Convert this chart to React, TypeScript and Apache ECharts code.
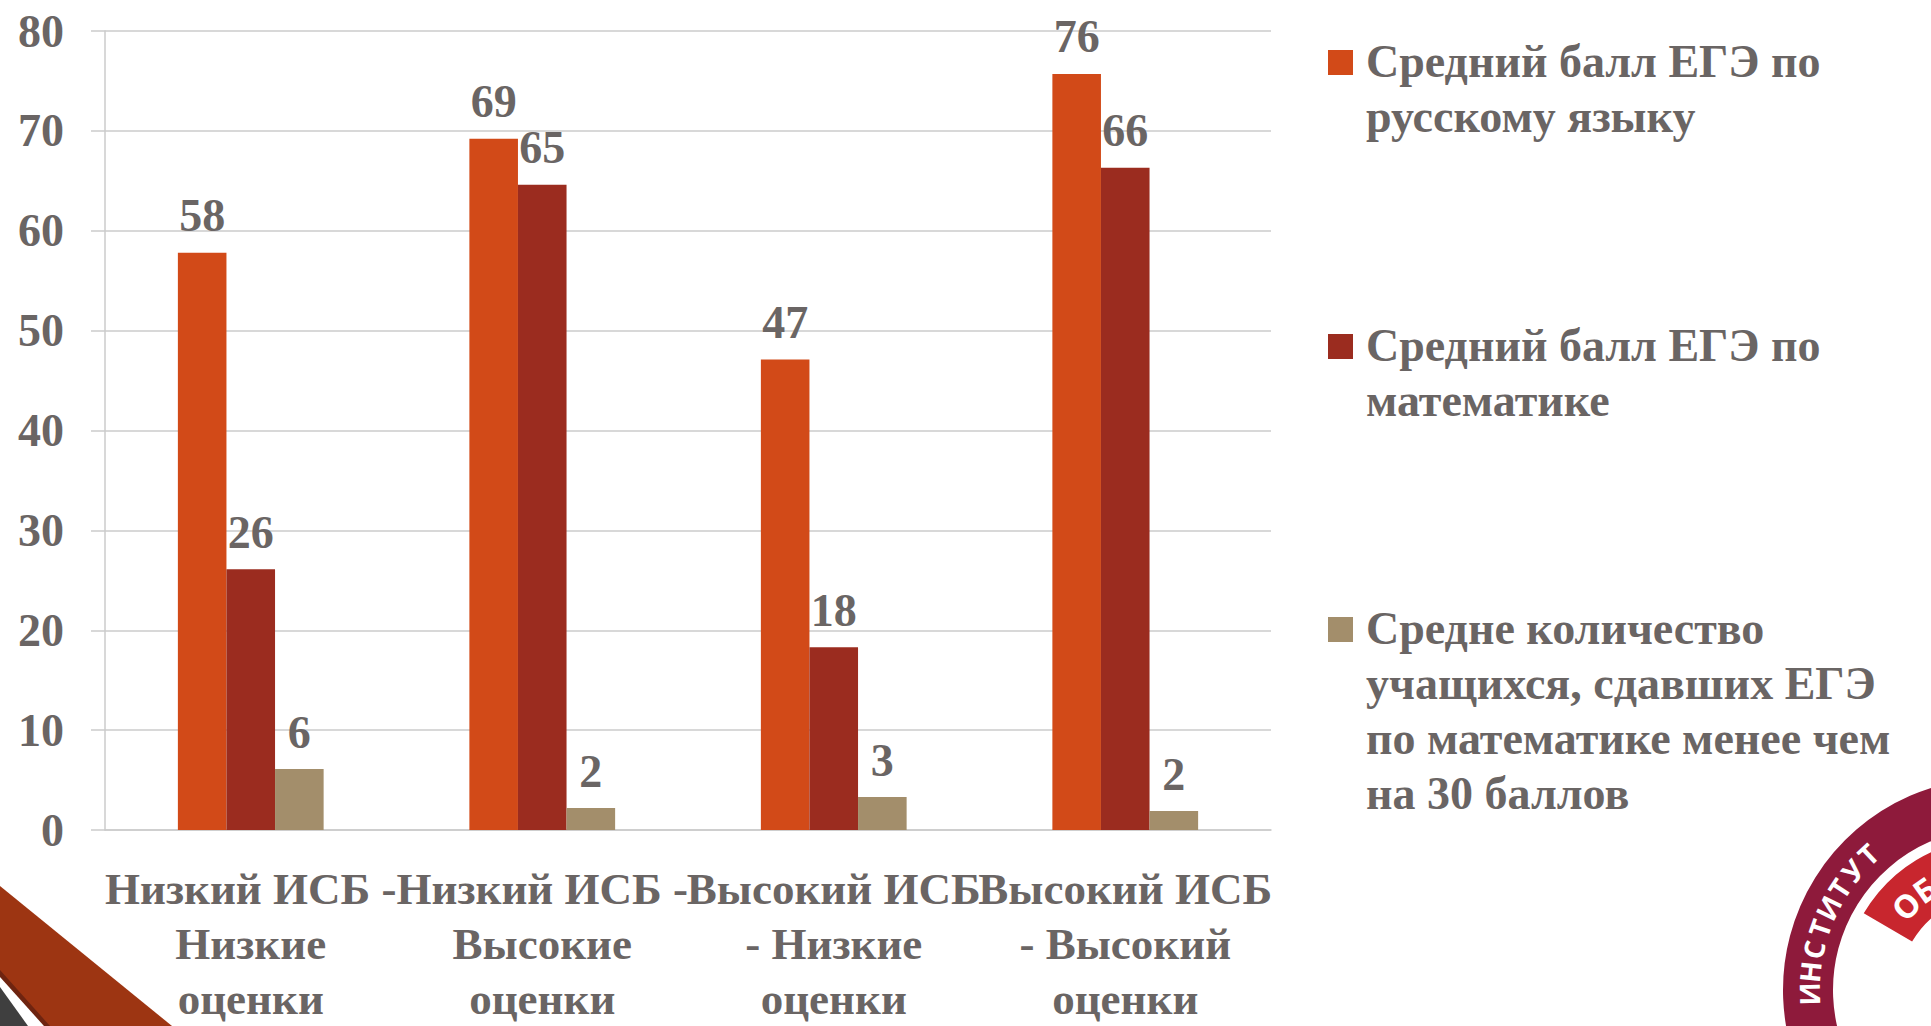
import React, { useEffect, useRef } from "react";
import * as echarts from "echarts";

const categories = [
  "Низкий ИСБ -\nНизкие\nоценки",
  "Низкий ИСБ -\nВысокие\nоценки",
  "Высокий ИСБ\n- Низкие\nоценки",
  "Высокий ИСБ\n- Высокий\nоценки",
];
const seriesNames = [
  "Средний балл ЕГЭ по русскому языку",
  "Средний балл ЕГЭ по математике",
  "Средне количество учащихся, сдавших ЕГЭ по математике менее чем на 30 баллов",
];
const legendLines = [
  ["Средний балл ЕГЭ по", "русскому языку"],
  ["Средний балл ЕГЭ по", "математике"],
  ["Средне количество", "учащихся, сдавших ЕГЭ", "по математике менее чем", "на 30 баллов"],
];
const russianScores = [57.8, 69.2, 47.1, 75.7];
const mathScores = [26.1, 64.6, 18.3, 66.3];
const lowMathCounts = [6.1, 2.2, 3.3, 1.9];
const yMin = 0;
const yMax = 80;
const yInterval = 10;

const colors = ["#D24A18", "#9B2C1F", "#A38E6B"];
const TEXT = "#6A6564";
const GRID = "#CBCBCB";
const FONT = "'Liberation Serif', 'Times New Roman', serif";
const LH = 55;
const legendTops = [34, 318, 601];

function iconPath(lines: number) {
  const h = lines * LH;
  return `path://M0,16L25,16L25,41L0,41Z M0,0L33,0 M0,${h}L33,${h}`;
}

export default function App() {
  const ref = useRef<HTMLDivElement>(null);
  useEffect(() => {
    if (!ref.current) return;
    const chart = echarts.init(ref.current, null, { renderer: "svg" });
    const data = [russianScores, mathScores, lowMathCounts];

    const cx = 1995, cy = 990;
    const word = "ИНСТИТУТ";
    const letters: any[] = [];
    for (let i = 0; i < word.length; i++) {
      const th = 3.12 + i * 0.12;
      letters.push({
        type: "text",
        x: cx + 186 * Math.cos(th),
        y: cy + 186 * Math.sin(th),
        rotation: 1.5 * Math.PI - th,
        z: 12,
        style: {
          text: word[i],
          fill: "#fff",
          font: "bold 28px 'Open Sans', sans-serif",
          align: "center",
          verticalAlign: "middle",
        },
      });
    }
    const word2 = "ОБ";
    for (let i = 0; i < word2.length; i++) {
      const th = 3.9 + i * 0.2;
      letters.push({
        type: "text",
        x: cx + 123 * Math.cos(th),
        y: cy + 123 * Math.sin(th),
        rotation: 1.5 * Math.PI - th,
        z: 12,
        style: {
          text: word2[i],
          fill: "#fff",
          font: "bold 32px 'Open Sans', sans-serif",
          align: "center",
          verticalAlign: "middle",
        },
      });
    }

    chart.setOption({
      animation: false,
      backgroundColor: "#fff",
      grid: { left: 105, right: 660, top: 31, bottom: 188, containLabel: false },
      legend: legendLines.map((lines, i) => ({
        data: [seriesNames[i]],
        top: legendTops[i],
        left: 1328,
        orient: "vertical",
        padding: 0,
        itemWidth: 33,
        itemHeight: lines.length * LH,
        icon: iconPath(lines.length),
        selectedMode: false,
        itemStyle: { borderWidth: 0 },
        formatter: () => lines.join("\n"),
        textStyle: {
          color: TEXT,
          fontFamily: FONT,
          fontWeight: "bold",
          fontSize: 46,
          lineHeight: LH,
        },
      })),
      xAxis: {
        type: "category",
        data: categories,
        axisLine: { show: true, lineStyle: { color: GRID, width: 1.5 } },
        axisTick: { show: false },
        axisLabel: {
          interval: 0,
          margin: 31,
          color: TEXT,
          fontFamily: FONT,
          fontWeight: "bold",
          fontSize: 45,
          lineHeight: LH,
        },
      },
      yAxis: {
        type: "value",
        min: yMin,
        max: yMax,
        interval: yInterval,
        axisLine: { show: true, lineStyle: { color: GRID, width: 1.5 } },
        axisTick: { show: true, length: 14, lineStyle: { color: GRID, width: 1.5 } },
        splitLine: { show: true, lineStyle: { color: GRID, width: 1.5 } },
        axisLabel: {
          margin: 41,
          color: TEXT,
          fontFamily: FONT,
          fontWeight: "bold",
          fontSize: 46,
        },
      },
      series: data.map((vals, i) => ({
        name: seriesNames[i],
        type: "bar",
        data: vals,
        barGap: "0%",
        barCategoryGap: "50%",
        itemStyle: { color: colors[i] },
        label: {
          show: true,
          position: "top",
          distance: 14,
          formatter: (p: any) => String(Math.round(p.value)),
          color: TEXT,
          fontFamily: FONT,
          fontWeight: "bold",
          fontSize: 46,
        },
      })),
      graphic: [
        {
          type: "polygon",
          z: 10,
          shape: { points: [[0, 886], [172, 1026], [49, 1026], [0, 972]] },
          style: { fill: "#9D3512" },
        },
        {
          type: "polygon",
          z: 11,
          shape: { points: [[0, 970], [50, 1026], [44, 1026], [0, 977]] },
          style: { fill: "#6E2410" },
        },
        {
          type: "polygon",
          z: 10,
          shape: { points: [[0, 987], [28, 1026], [0, 1026]] },
          style: { fill: "#3F3F3F" },
        },
        {
          type: "sector",
          z: 10,
          shape: { cx, cy, r0: 162, r: 212, startAngle: 2.8, endAngle: 5.2, clockwise: true },
          style: { fill: "#8E1A3B" },
        },
        {
          type: "sector",
          z: 10,
          shape: { cx, cy, r0: 96, r: 152, startAngle: 3.67, endAngle: 5.0, clockwise: true },
          style: { fill: "#C8262E" },
        },
        ...letters,
      ],
    });
    return () => chart.dispose();
  }, []);
  return (
    <div
      ref={ref}
      style={{ position: "fixed", left: 0, top: 0, width: 1931, height: 1026 }}
    />
  );
}
